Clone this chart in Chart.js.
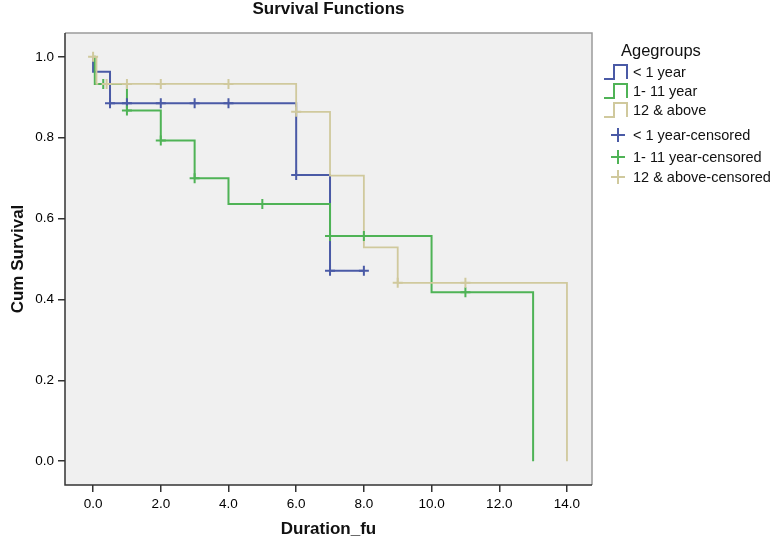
<!DOCTYPE html>
<html>
<head>
<meta charset="utf-8">
<script src="https://cdn.jsdelivr.net/npm/chart.js@4.4.1/dist/chart.umd.min.js"></script>
<style>
  html, body { margin: 0; padding: 0; background: #fff; }
  .survival { position: relative; width: 777px; height: 546px; font-family: "Liberation Sans", Arial, sans-serif; }
  .survival__legend { position: absolute; left: 603px; top: 42px; color: #111; }
  .survival__legend-title { position: absolute; left: 18px; top: -1px; font-size: 16.5px; white-space: nowrap; }
  .survival__legend-item { position: absolute; left: 0; height: 18px; display: flex; align-items: center; white-space: nowrap; font-size: 14.5px; }
  .survival__legend-item svg { width: 26px; height: 18px; margin-right: 4px; }
</style>
</head>
<body>
<div class="survival">
  <canvas id="chart" width="777" height="546"></canvas>
  <div class="survival__legend" id="legend"></div>
</div>
<script>
const xTicks = [0, 2, 4, 6, 8, 10, 12, 14];
const yTicks = [0, 0.2, 0.4, 0.6, 0.8, 1.0];

const groups = ['< 1 year', '1- 11 year', '12 & above'];
const colors = ['#4a5aa6', '#4fb356', '#d0c99d'];

// survival curves: time of each step and survival after it
const infantTime = [0, 0, 0.5, 6, 7, 8];
const infantSurv = [1, 0.963, 0.885, 0.708, 0.471, 0.471];
const childTime = [0, 0.05, 1, 2, 3, 4, 7, 10, 13];
const childSurv = [1, 0.933, 0.867, 0.793, 0.700, 0.636, 0.557, 0.418, 0];
const adultTime = [0, 0.1, 6, 7, 8, 9, 14];
const adultSurv = [1, 0.933, 0.864, 0.706, 0.529, 0.441, 0];

// censored cases
const infantCensTime = [0.5, 1, 2, 3, 4, 6, 7, 8];
const infantCensSurv = [0.885, 0.885, 0.885, 0.885, 0.885, 0.708, 0.471, 0.471];
const childCensTime = [0.3, 1, 2, 3, 5, 7, 8, 11];
const childCensSurv = [0.933, 0.867, 0.793, 0.700, 0.636, 0.557, 0.557, 0.418];
const adultCensTime = [0, 0.4, 1, 2, 4, 6, 9, 11];
const adultCensSurv = [1, 0.933, 0.933, 0.933, 0.933, 0.864, 0.441, 0.441];

const toPoints = (xs, ys) => xs.map((x, i) => ({ x: x, y: ys[i] }));

const curves = [
  toPoints(infantTime, infantSurv),
  toPoints(childTime, childSurv),
  toPoints(adultTime, adultSurv)
];
const censored = [
  toPoints(infantCensTime, infantCensSurv),
  toPoints(childCensTime, childCensSurv),
  toPoints(adultCensTime, adultCensSurv)
];

const datasets = [];
// adult curve first so it sits on top, like the original
[2, 1, 0].forEach(g => {
  datasets.push({
    label: groups[g],
    data: curves[g],
    showLine: true,
    stepped: 'before',
    borderColor: colors[g],
    borderWidth: g === 2 ? 1.8 : 2,
    pointRadius: 0,
    fill: false,
    order: 1
  });
});
[2, 1, 0].forEach(g => {
  datasets.push({
    label: groups[g] + '-censored',
    data: censored[g],
    showLine: false,
    pointStyle: 'cross',
    pointRadius: 5,
    pointBorderWidth: 2,
    borderColor: colors[g],
    backgroundColor: colors[g],
    order: 0
  });
});

const plotFrame = {
  id: 'plotFrame',
  beforeDatasetsDraw(chart) {
    const { ctx, chartArea: a } = chart;
    ctx.save();
    ctx.fillStyle = '#f0f0f0';
    ctx.fillRect(a.left, a.top, a.width, a.height);
    ctx.lineWidth = 1.5;
    ctx.strokeStyle = '#9a9a9a';
    ctx.beginPath();
    ctx.moveTo(a.left, a.top);
    ctx.lineTo(a.right, a.top);
    ctx.lineTo(a.right, a.bottom);
    ctx.stroke();
    ctx.strokeStyle = '#333';
    ctx.beginPath();
    ctx.moveTo(a.left, a.top);
    ctx.lineTo(a.left, a.bottom);
    ctx.lineTo(a.right, a.bottom);
    ctx.stroke();
    ctx.restore();
  },
  afterDraw(chart) {
    const { ctx, chartArea: a } = chart;
    ctx.save();
    ctx.fillStyle = '#111';
    ctx.font = 'bold 17px "Liberation Sans", Arial, sans-serif';
    ctx.textAlign = 'center';
    ctx.textBaseline = 'alphabetic';
    ctx.fillText('Survival Functions', (a.left + a.right) / 2, 14);
    ctx.restore();
  }
};

Chart.defaults.font.family = '"Liberation Sans", Arial, sans-serif';
Chart.defaults.color = '#000';

new Chart(document.getElementById('chart'), {
  type: 'scatter',
  data: { datasets: datasets },
  options: {
    responsive: false,
    animation: false,
    events: [],
    layout: { padding: { top: 33, right: 185, left: 0, bottom: 0 } },
    plugins: {
      legend: { display: false },
      tooltip: { enabled: false }
    },
    scales: {
      x: {
        type: 'linear',
        min: -0.83,
        max: 14.74,
        afterBuildTicks: s => { s.ticks = xTicks.map(v => ({ value: v })); },
        afterFit: s => { s.height = 61; },
        ticks: {
          callback: v => v.toFixed(1),
          font: { size: 13.5 },
          padding: 4,
          maxRotation: 0
        },
        grid: { drawOnChartArea: false, drawTicks: true, tickLength: 7, color: '#333', lineWidth: 1.5 },
        border: { display: false },
        title: {
          display: true,
          text: 'Duration_fu',
          font: { size: 17, weight: 'bold' },
          color: '#111',
          padding: { top: 0, bottom: 6 }
        }
      },
      y: {
        min: -0.059,
        max: 1.059,
        afterBuildTicks: s => { s.ticks = yTicks.map(v => ({ value: v })); },
        afterFit: s => { s.width = 65; },
        ticks: {
          callback: v => v.toFixed(1),
          font: { size: 13.5 },
          padding: 4
        },
        grid: { drawOnChartArea: false, drawTicks: true, tickLength: 7, color: '#333', lineWidth: 1.5 },
        border: { display: false },
        title: {
          display: true,
          text: 'Cum Survival',
          font: { size: 17, weight: 'bold' },
          color: '#111',
          padding: { top: 8, bottom: 0 }
        }
      }
    }
  },
  plugins: [plotFrame]
});

// legend like the SPSS one: step icons for curves, crosses for censored
const legend = document.getElementById('legend');
const title = document.createElement('div');
title.className = 'survival__legend-title';
title.textContent = 'Agegroups';
legend.appendChild(title);

const itemTops = [21, 40, 59, 84, 106, 126];
const legendItems = groups.map((g, i) => ({ text: g, color: colors[i], kind: 'step' }))
  .concat(groups.map((g, i) => ({ text: g + '-censored', color: colors[i], kind: 'cross' })));

legendItems.forEach((item, i) => {
  const row = document.createElement('div');
  row.className = 'survival__legend-item';
  row.style.top = itemTops[i] + 'px';
  const icon = item.kind === 'step'
    ? '<svg viewBox="0 0 26 18"><path d="M1 16 H11 V2 H24 V16" fill="none" stroke="' + item.color + '" stroke-width="2"/></svg>'
    : '<svg viewBox="0 0 26 18"><path d="M8 9 H22 M15 2 V16" fill="none" stroke="' + item.color + '" stroke-width="2"/></svg>';
  row.innerHTML = icon;
  const label = document.createElement('span');
  label.textContent = item.text;
  row.appendChild(label);
  legend.appendChild(row);
});
</script>
</body>
</html>
